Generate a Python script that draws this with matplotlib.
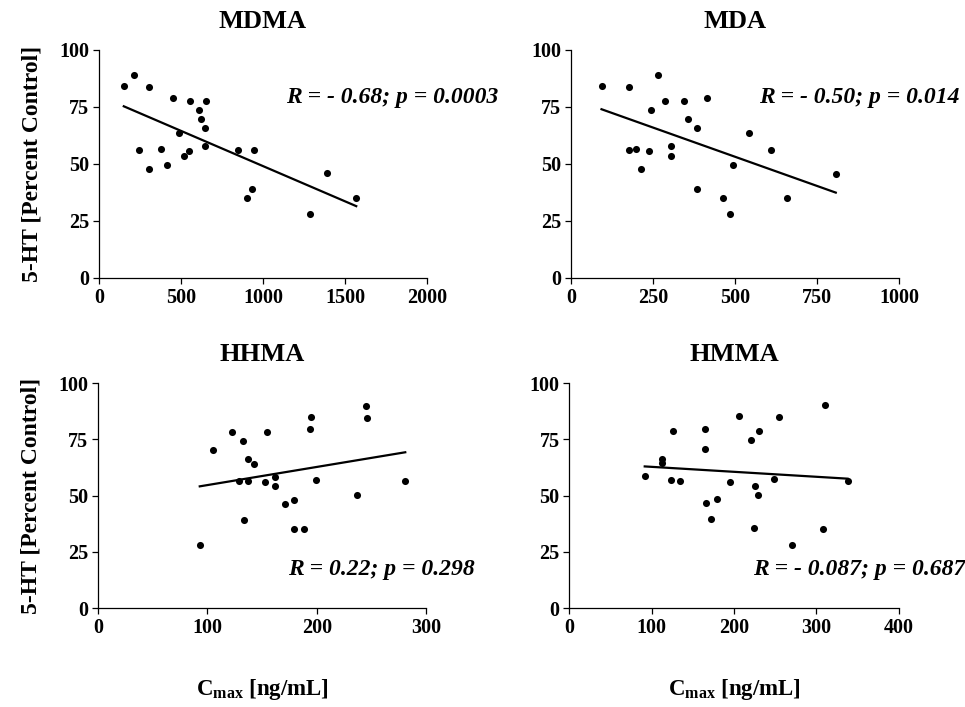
import numpy as np
import matplotlib
matplotlib.use('Agg')
import matplotlib.pyplot as plt

plt.rcParams['font.family'] = ['Liberation Serif', 'DejaVu Serif']
plt.rcParams['font.weight'] = 'bold'
plt.rcParams['mathtext.fontset'] = 'custom'
plt.rcParams['mathtext.rm'] = 'Liberation Serif:bold'
plt.rcParams['mathtext.bf'] = 'Liberation Serif:bold'

# MDMA
mdma_x = [151, 214, 302, 448, 552, 654, 611, 623, 646, 487, 648, 244, 377, 548,
          518, 845, 945, 306, 412, 931, 902, 1387, 1568, 1287]
mdma_y = [84.3, 88.9, 83.9, 78.8, 77.8, 77.8, 73.8, 69.7, 65.6, 63.6, 57.9, 56.0,
          56.7, 55.7, 53.6, 56.3, 56.0, 47.8, 49.7, 39.0, 34.9, 45.9, 35.2, 28.1]

# MDA
mda_x = [93, 178, 265, 245, 286, 345, 416, 357, 385, 543, 177, 199, 238, 306,
         306, 610, 213, 494, 385, 464, 486, 659, 807]
mda_y = [84.3, 83.8, 88.9, 73.7, 77.6, 77.6, 78.8, 69.7, 65.6, 63.4, 56.0, 56.4,
         55.5, 57.7, 53.6, 56.0, 47.8, 49.7, 38.9, 34.9, 28.1, 35.1, 45.7]

# HHMA
hhma_x = [93, 105.5, 122.3, 132.4, 137, 142.7, 129.3, 137.3, 152.5, 161.7, 161.7,
          154.6, 133.6, 171.4, 179.6, 179.6, 188.5, 194.3, 193.4, 199.5, 236.7,
          244.6, 245.5, 280.9]
hhma_y = [28.1, 70.4, 78.4, 74.4, 66.1, 63.9, 56.4, 56.7, 55.9, 58.3, 54.2, 78.4,
          39.1, 46.2, 48.1, 35.3, 35.1, 85.1, 79.5, 57.1, 50.2, 89.8, 84.5, 56.5]

# HMMA
hmma_x = [91.5, 112.2, 112.2, 125.9, 123.5, 134, 164.4, 165.2, 166, 179, 172.1,
          195.3, 205.8, 221.2, 230.5, 226, 229.7, 224.4, 248.4, 254.9, 270.3,
          308.8, 310.8, 338]
hmma_y = [58.6, 66.4, 64.4, 78.7, 56.8, 56.7, 79.8, 70.6, 46.5, 48.4, 39.4, 56.1,
          85.4, 74.7, 78.6, 54.3, 50.3, 35.5, 57.4, 84.9, 28.2, 35.3, 90.1, 56.7]

titles = ['MDMA', 'MDA', 'HHMA', 'HMMA']
stats = ['R = - 0.68; p = 0.0003', 'R = - 0.50; p = 0.014',
         'R = 0.22; p = 0.298', 'R = - 0.087; p = 0.687']
xmax = [2000, 1000, 300, 400]
xstep = [500, 250, 100, 100]
xs = [mdma_x, mda_x, hhma_x, hmma_x]
ys = [mdma_y, mda_y, hhma_y, hmma_y]

# axes rectangles and stat-label positions (axes fraction)
rects = [[0.1026, 0.6068, 0.340, 0.3225],
         [0.5917, 0.6068, 0.340, 0.3225],
         [0.1016, 0.1400, 0.340, 0.3180],
         [0.5901, 0.1400, 0.341, 0.3180]]
stat_pos = [(0.570, 0.79), (0.573, 0.79), (0.579, 0.173), (0.558, 0.173)]

fig = plt.figure(figsize=(9.65, 7.07), dpi=100)

for i in range(4):
    ax = fig.add_axes(rects[i])
    x = np.array(xs[i], dtype=float)
    y = np.array(ys[i], dtype=float)
    ax.scatter(x, y, s=26, color='black', zorder=3, linewidths=0)
    m, b = np.polyfit(x, y, 1)
    lx = np.array([x.min(), x.max()])
    ax.plot(lx, m * lx + b, color='black', lw=1.6)

    ax.set_xlim(0, xmax[i])
    ax.set_ylim(0, 100)
    ax.set_xticks(np.arange(0, xmax[i] + 1, xstep[i]))
    ax.set_yticks([0, 25, 50, 75, 100])
    ax.spines['top'].set_visible(False)
    ax.spines['right'].set_visible(False)
    for s in ['left', 'bottom']:
        ax.spines[s].set_linewidth(0.9)
    ax.tick_params(direction='out', length=4, width=0.9, labelsize=14.5, pad=3)
    for lab in ax.get_xticklabels() + ax.get_yticklabels():
        lab.set_fontweight('bold')
    ax.set_title(titles[i], fontsize=19, fontweight='bold', pad=16)
    ax.text(stat_pos[i][0], stat_pos[i][1], stats[i], transform=ax.transAxes,
            fontsize=17, fontweight='bold', fontstyle='italic', ha='left',
            va='center', clip_on=False)
    if i % 2 == 0:
        ax.set_ylabel('5-HT [Percent Control]', fontsize=17, fontweight='bold',
                      labelpad=12)
    if i >= 2:
        cx = rects[i][0] + rects[i][2] / 2
        fig.text(cx, 1 - 690 / 707, r'C$_{\mathrm{max}}$ [ng/mL]', fontsize=16.5,
                 fontweight='bold', ha='center', va='center')

fig.savefig('out.png', dpi=100)
